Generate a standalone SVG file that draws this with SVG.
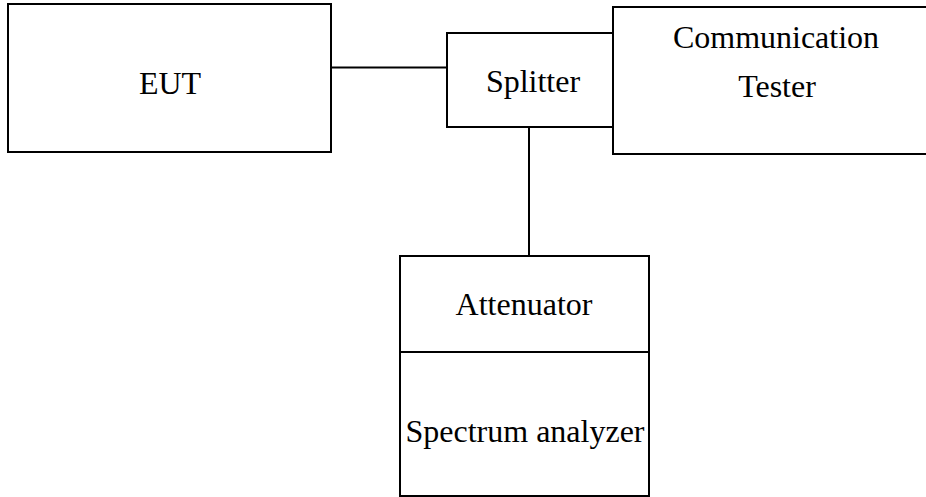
<svg xmlns="http://www.w3.org/2000/svg" width="926" height="497" viewBox="0 0 926 497">
<style>
.box{fill:#fff;stroke:#000;stroke-width:2}
.ln{fill:none;stroke:#000;stroke-width:2}
.t{font-family:'Liberation Serif','Times New Roman',Times,serif;font-size:32px;fill:#000;text-anchor:middle}
</style>
<rect width="926" height="497" fill="#fff"/>
<g id="connectors">
<line class="ln" x1="331" y1="67.5" x2="447" y2="67.5"/>
<line class="ln" x1="529" y1="127" x2="529" y2="256"/>
</g>
<g id="eut">
<rect class="box" x="8" y="4" width="323" height="148"/>
<text class="t" x="170" y="94" font-family="Liberation Serif">EUT</text>
</g>
<g id="splitter">
<rect class="box" x="447" y="33" width="166" height="94"/>
<text class="t" x="533" y="92" font-family="Liberation Serif">Splitter</text>
</g>
<g id="tester">
<rect class="box" x="613" y="7" width="320" height="147"/>
<text class="t" x="776" y="48" font-family="Liberation Serif">Communication</text>
<text class="t" x="777" y="97" font-family="Liberation Serif">Tester</text>
</g>
<g id="attenuator">
<rect class="box" x="400" y="256" width="249" height="96"/>
<text class="t" x="524" y="315" font-family="Liberation Serif">Attenuator</text>
</g>
<g id="spectrum">
<rect class="box" x="400" y="352" width="249" height="144"/>
<text class="t" x="525" y="442" font-family="Liberation Serif">Spectrum analyzer</text>
</g>
</svg>
